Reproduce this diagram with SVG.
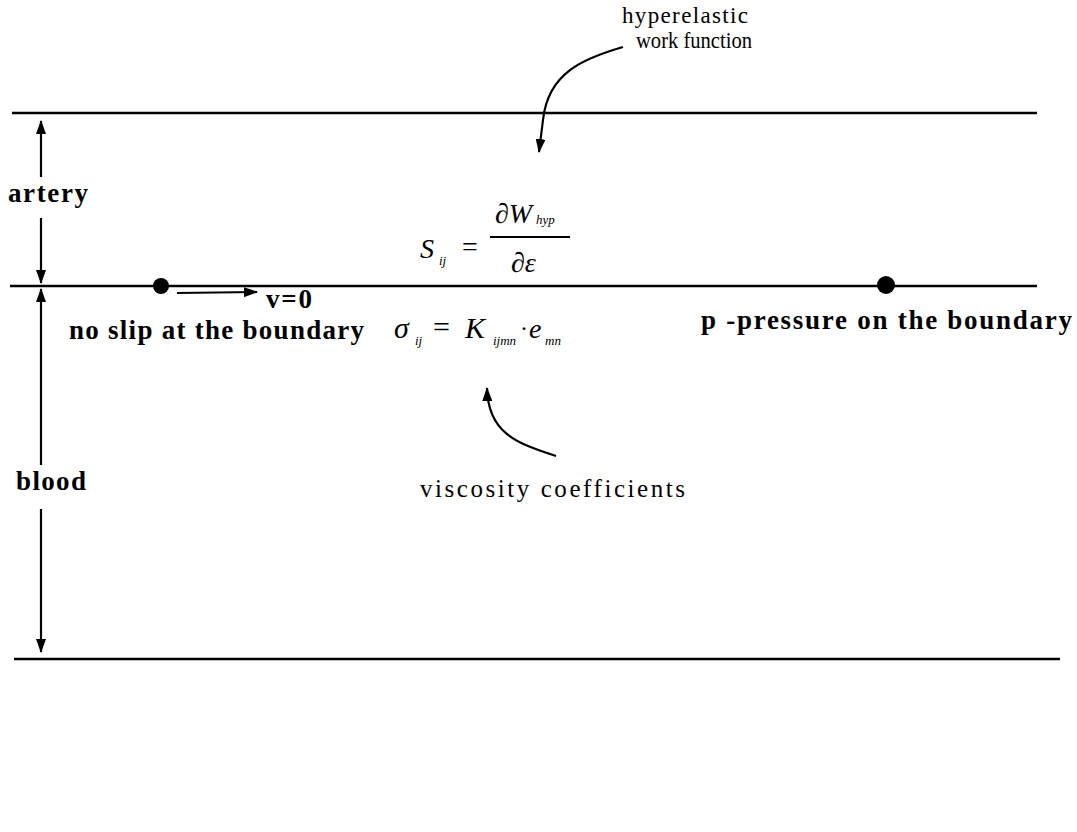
<svg xmlns="http://www.w3.org/2000/svg" width="1077" height="832" viewBox="0 0 1077 832">
<style>
.ln{stroke:#000;stroke-width:2.5;fill:none}
.ar{stroke:#000;stroke-width:2.2;fill:none}
.lb{font-family:"Liberation Serif",serif;font-weight:bold;font-size:27px;fill:#000}
.rg{font-family:"Liberation Serif",serif;font-size:25px;fill:#000}
.m{font-family:"Liberation Serif",serif;font-style:italic;fill:#000}
</style>
<defs>
<marker id="ahb" viewBox="0 0 14 10" refX="13" refY="5" markerWidth="14" markerHeight="10" orient="auto-start-reverse" markerUnits="userSpaceOnUse">
<path d="M0,0 L14,5 L0,10 Z" fill="#000"/>
</marker>
</defs>
<rect width="1077" height="832" fill="#fff"/>
<g id="boundaries">
<line class="ln" x1="12" y1="113" x2="1037" y2="113"/>
<line class="ln" x1="10" y1="286" x2="1037" y2="286"/>
<line class="ln" x1="14" y1="659" x2="1060" y2="659"/>
</g>
<g id="connectors">
<line class="ar" x1="41" y1="177" x2="41" y2="121" marker-end="url(#ahb)"/>
<line class="ar" x1="41" y1="218" x2="41" y2="283" marker-end="url(#ahb)"/>
<line class="ar" x1="41" y1="465" x2="41" y2="289" marker-end="url(#ahb)"/>
<line class="ar" x1="41" y1="509" x2="41" y2="652" marker-end="url(#ahb)"/>
<line class="ar" x1="177" y1="293" x2="257" y2="292" marker-end="url(#ahb)"/>
<path class="ar" d="M623,47 C585,58 548,72 543,120 L539,152" marker-end="url(#ahb)"/>
<path class="ar" d="M556,456 C515,443 488,432 487,388" marker-end="url(#ahb)"/>
</g>
<g id="artery">
<text class="lb" x="8" y="202" textLength="80" lengthAdjust="spacing">artery</text>
</g>
<g id="blood">
<text class="lb" x="16" y="490" textLength="70" lengthAdjust="spacing">blood</text>
</g>
<g id="no-slip">
<circle cx="161" cy="286" r="8" fill="#000"/>
<text class="lb" x="266" y="308" textLength="46" lengthAdjust="spacing">v=0</text>
<text class="lb" x="69" y="339" textLength="295" lengthAdjust="spacing">no slip at the boundary</text>
</g>
<g id="pressure">
<circle cx="886" cy="285" r="9" fill="#000"/>
<text class="lb" x="701" y="329" textLength="371" lengthAdjust="spacing">p -pressure on the boundary</text>
</g>
<g id="hyperelastic-label">
<text class="rg" x="622" y="23" textLength="126" lengthAdjust="spacing" style="font-size:23px">hyperelastic</text>
<text class="rg" x="636" y="48" textLength="116" lengthAdjust="spacingAndGlyphs" style="font-size:23px">work function</text>
</g>
<g id="hyperelastic-formula">
<text class="m" x="420" y="258" font-size="28">S</text>
<text class="m" x="439" y="265" font-size="13">ij</text>
<text x="462" y="256" font-size="28" font-family="Liberation Serif,serif">=</text>
<line x1="490" y1="237" x2="570" y2="237" stroke="#000" stroke-width="2"/>
<text class="m" x="495" y="223" font-size="28">∂W</text>
<text class="m" x="536" y="224" font-size="13">hyp</text>
<text class="m" x="511" y="272" font-size="28">∂ε</text>
</g>
<g id="viscous-formula">
<text class="m" x="394" y="338" font-size="30">σ</text>
<text class="m" x="415" y="345" font-size="13">ij</text>
<text x="433" y="337" font-size="30" font-family="Liberation Serif,serif">=</text>
<text class="m" x="465" y="338" font-size="30">K</text>
<text class="m" x="493" y="345" font-size="13">ijmn</text>
<text x="520" y="336" font-size="24" font-family="Liberation Serif,serif">·</text>
<text class="m" x="529" y="338" font-size="28">e</text>
<text class="m" x="545" y="345" font-size="13">mn</text>
</g>
<g id="viscosity-label">
<text class="rg" x="420" y="497" textLength="265" lengthAdjust="spacing">viscosity coefficients</text>
</g>
</svg>
